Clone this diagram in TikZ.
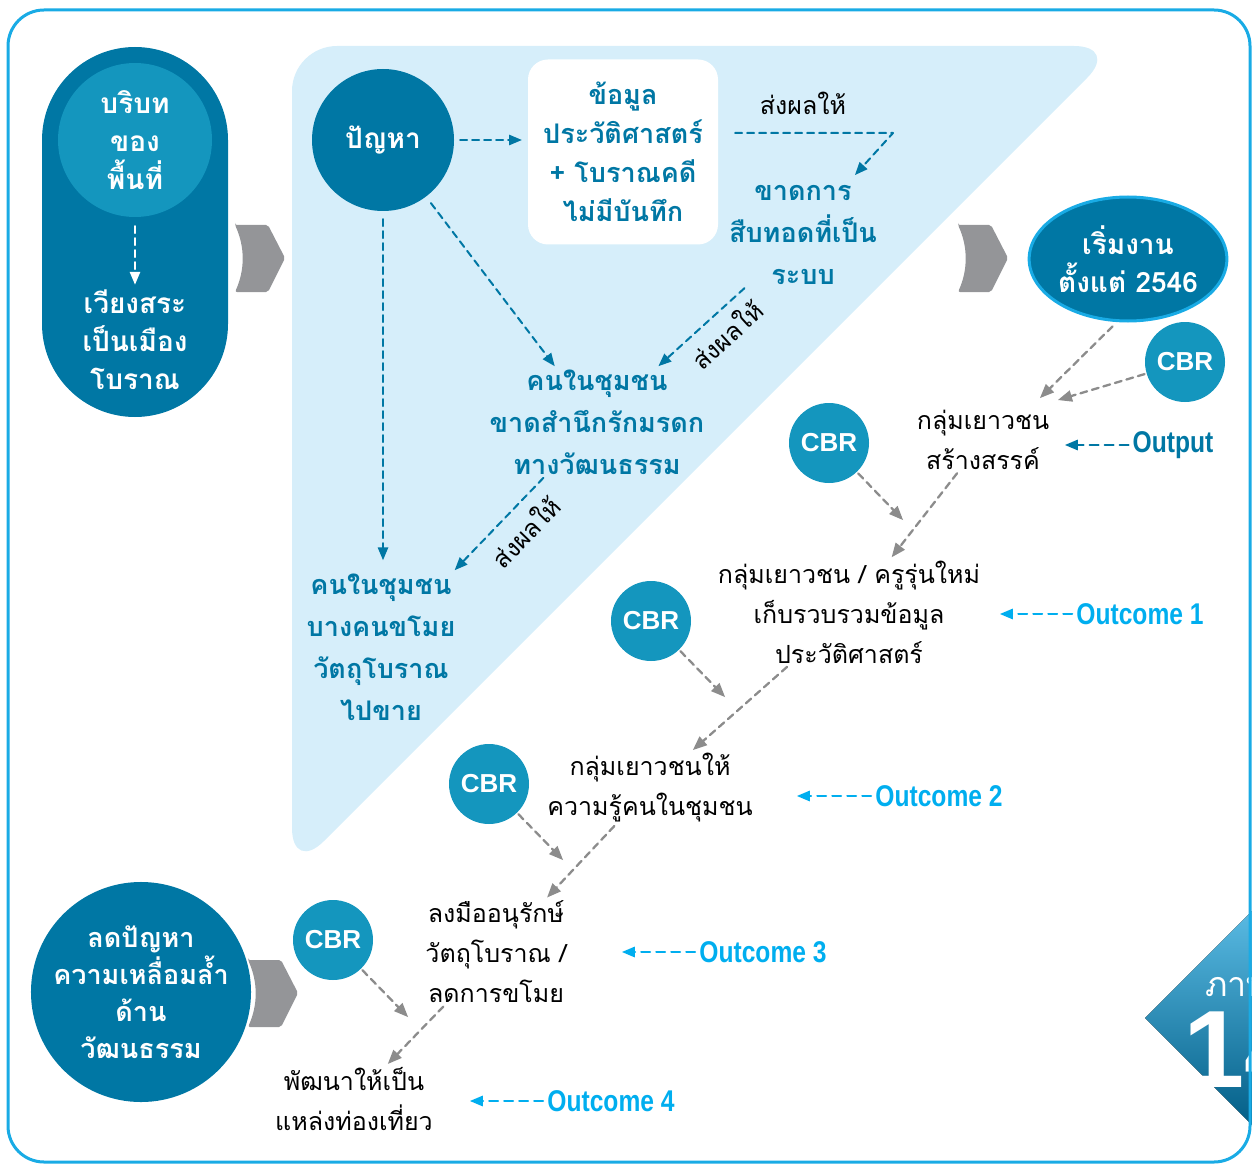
\documentclass[tikz,border=0pt]{standalone}
\usepackage{fontspec}
\usepackage{pgf,tikz}
\usetikzlibrary{arrows,shapes.geometric}
\newfontfamily\thaifont[Script=Thai]{Loma}
\newfontfamily\latfont{Liberation Sans}
\newfontfamily\condfont[FakeStretch=0.82]{Liberation Sans}
\definecolor{qqwwaa}{rgb}{0.,0.467,0.643}
\definecolor{wwzzbb}{rgb}{0.078,0.588,0.745}
\definecolor{ddeeff}{rgb}{0.839,0.933,0.98}
\definecolor{qqaaee}{rgb}{0.,0.682,0.937}
\definecolor{iiiiii}{rgb}{0.55,0.55,0.55}
\definecolor{zzzzzz}{rgb}{0.58,0.584,0.596}
\definecolor{wwaaee}{rgb}{0.1,0.67,0.9}
\definecolor{ttbbee}{rgb}{0.36,0.74,0.9}
\definecolor{qqttpp}{rgb}{0.,0.36,0.52}
\tikzset{
  dsh/.style={dash pattern=on 7pt off 5pt,line width=2pt},
  barrow/.style={dsh,->,color=qqwwaa},
  warrow/.style={dsh,->,color=white},
  garrow/.style={dsh,->,color=iiiiii,line width=2.3pt},
  oarrow/.style={->,dash pattern=on 9pt off 6pt,line width=2pt,color=qqaaee},
  wtext/.style={text=white,align=center,font=\thaifont\bfseries\fontsize{28}{38}\selectfont},
  btext/.style={text=qqwwaa,align=center,font=\thaifont\bfseries\fontsize{27}{42}\selectfont},
  ktext/.style={text=black,align=center,font=\thaifont\fontsize{25}{40}\selectfont},
  cbr/.style={circle,fill=wwzzbb,minimum size=80pt,inner sep=0pt,text=white,font=\latfont\bfseries\fontsize{26}{26}\selectfont},
  outlbl/.style={text=qqaaee,font=\condfont\bfseries\fontsize{30}{30}\selectfont,inner sep=4pt}
}
\begin{document}
\begin{tikzpicture}[line cap=round,line join=round,>=triangle 45,x=1pt,y=-1pt]
\useasboundingbox (0,0) rectangle (1252,1166);
\clip (0,0) rectangle (1252,1166);
% background parts
\fill [color=ddeeff,rounded corners=45pt] (292,46) -- (1119,46) -- (292,873) -- cycle;
\fill [shift={(0,0)},color=zzzzzz,rounded corners=2pt] (235,225) -- (268,225) -- (285,258) -- (268,292) -- (235,292) .. controls (245,270) and (245,247) .. (235,225) -- cycle;
\fill [shift={(723,0)},color=zzzzzz,rounded corners=2pt] (235,225) -- (268,225) -- (285,258) -- (268,292) -- (235,292) .. controls (245,270) and (245,247) .. (235,225) -- cycle;
\fill [shift={(13,735)},color=zzzzzz,rounded corners=2pt] (235,225) -- (268,225) -- (285,258) -- (268,292) -- (235,292) .. controls (245,270) and (245,247) .. (235,225) -- cycle;
\fill [top color=ttbbee,bottom color=qqttpp] (1145,1018) -- (1258,905) -- (1371,1018) -- (1258,1131) -- cycle;
\node [anchor=west,text=white,inner sep=0pt,font=\thaifont\fontsize{34}{34}\selectfont] (figword) at (1205,987) {ภาพ};
\node [anchor=west,text=white,inner sep=0pt,font=\latfont\bfseries\fontsize{110}{110}\selectfont] (fignum) at (1183,1050) {14};
\draw [color=wwaaee,line width=3pt,rounded corners=36pt] (8,10) rectangle (1250,1162);
% left column
\node [fill=qqwwaa,rounded corners=93pt,minimum width=186pt,minimum height=370pt] (ctxbox) at (135,232) {};
\node [circle,fill=wwzzbb,minimum size=154pt,inner sep=0pt,wtext] (ctx) at (135,140) {บริบท\\ของ\\พื้นที่};
\node [wtext] (city) at (135,340) {เวียงสระ\\เป็นเมือง\\โบราณ};
\draw [warrow,shorten <=9pt,shorten >=2pt] (ctx) -- (city);
% problem area
\node [circle,fill=qqwwaa,minimum size=142pt,inner sep=0pt,wtext] (prob) at (383,140) {ปัญหา};
\node [fill=white,rounded corners=20pt,minimum width=190pt,minimum height=185pt,btext,font=\thaifont\bfseries\fontsize{27}{39}\selectfont] (info) at (623,152) {ข้อมูล\\ประวัติศาสตร์\\+ โบราณคดี\\ไม่มีบันทึก};
\node [ktext] (res1) at (803,103) {ส่งผลให้};
\node [btext] (gap) at (803,235) {ขาดการ\\สืบทอดที่เป็น\\ระบบ};
\node [btext] (aware) at (597,422) {คนในชุมชน\\ขาดสำนึกรักมรดก\\ทางวัฒนธรรม};
\node [btext] (theft) at (381,647) {คนในชุมชน\\บางคนขโมย\\วัตถุโบราณ\\ไปขาย};
\coordinate (k1) at (893,133);
\coordinate (k2) at (855,175);
\draw [barrow,shorten <=6pt,shorten >=6pt] (prob) -- (prob -| info.west);
\draw [barrow,shorten <=17pt] (info.east |- k1) -- (k1) -- (k2);
\draw [barrow] (gap) -- (aware) node [pos=0.38,sloped,below=10pt,inner sep=0pt,ktext] (res2) {ส่งผลให้};
\draw [barrow] (aware) -- (theft) node [pos=0.4,sloped,below=12pt,inner sep=0pt,ktext] (res3) {ส่งผลให้};
\draw [barrow,shorten <=8pt] (prob) -- (aware);
\draw [barrow,shorten <=8pt,shorten >=10pt] (prob) -- (prob |- theft.north);
% results chain
\node [ellipse,fill=qqwwaa,draw=wwaaee,line width=3pt,minimum width=192pt,minimum height=124pt,inner sep=0pt,wtext] (start) at (1128,259) {เริ่มงาน\\ตั้งแต่ 2546};
\node [ktext] (youth) at (983,440) {กลุ่มเยาวชน\\สร้างสรรค์};
\node [ktext] (collect) at (849,612) {กลุ่มเยาวชน / ครูรุ่นใหม่\\เก็บรวบรวมข้อมูล\\ประวัติศาสตร์};
\node [ktext] (teach) at (650,788) {กลุ่มเยาวชนให้\\ความรู้คนในชุมชน};
\node [ktext] (conserve) at (496,952) {ลงมืออนุรักษ์\\วัตถุโบราณ /\\ลดการขโมย};
\node [ktext] (tour) at (354,1099) {พัฒนาให้เป็น\\แหล่งท่องเที่ยว};
\node [circle,fill=qqwwaa,minimum size=202pt,inner sep=0pt,wtext,font=\thaifont\bfseries\fontsize{27}{37}\selectfont] (goal) at (141,992) {ลดปัญหา\\ความเหลื่อมล้ำ\\ด้าน\\วัฒนธรรม};
\node [cbr] (cbr0) at (1185,362) {CBR};
\node [cbr] (cbr1) at (829,443) {CBR};
\node [cbr] (cbr2) at (651,621) {CBR};
\node [cbr] (cbr3) at (489,784) {CBR};
\node [cbr] (cbr4) at (333,940) {CBR};
\coordinate (j0) at (1040,398);
\coordinate (j5) at (1058,400);
\coordinate (j1) at (903,520);
\coordinate (j2) at (725,697);
\coordinate (j3) at (563,860);
\coordinate (j4) at (408,1017);
\draw [garrow,shorten <=6pt] (start.-100) -- (j0);
\draw [garrow,shorten <=2pt] (cbr0) -- (j5);
\draw [garrow,shorten <=2pt] (cbr1) -- (j1);
\draw [garrow,shorten <=2pt] (cbr2) -- (j2);
\draw [garrow,shorten <=2pt] (cbr3) -- (j3);
\draw [garrow,shorten <=2pt] (cbr4) -- (j4);
\draw [garrow] (youth) -- (collect);
\draw [garrow] (collect) -- (teach);
\draw [garrow] (teach) -- (conserve);
\draw [garrow] (conserve) -- (tour);
% output labels
\node [outlbl,text=qqwwaa] (oc0) at (1173,445) {Output};
\node [outlbl] (oc1) at (1140,614) {Outcome 1};
\node [outlbl] (oc2) at (939,796) {Outcome 2};
\node [outlbl] (oc3) at (763,952) {Outcome 3};
\node [outlbl] (oc4) at (611,1101) {Outcome 4};
\coordinate (t0) at (1065,445);
\coordinate (t1) at (1000,614);
\coordinate (t2) at (797,796);
\coordinate (t3) at (622,952);
\coordinate (t4) at (470,1101);
\draw [barrow,dash pattern=on 9pt off 6pt] (oc0) -- (t0);
\draw [oarrow] (oc1) -- (t1);
\draw [oarrow] (oc2) -- (t2);
\draw [oarrow] (oc3) -- (t3);
\draw [oarrow] (oc4) -- (t4);
\end{tikzpicture}
\end{document}
